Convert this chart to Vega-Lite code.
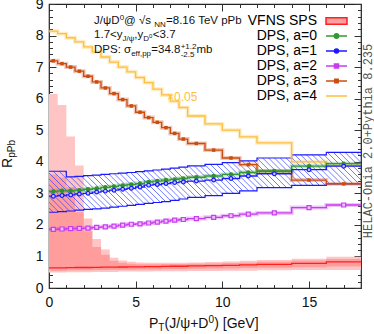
{
"$schema": "https://vega.github.io/schema/vega-lite/v6.json",
"width": 312, "height": 284, "autosize": "none",
"padding": {"left": 49, "top": 4, "right": 13, "bottom": 46},
"background": "white",
"config": {
 "view": {"stroke": "#222", "strokeWidth": 1.2},
 "axis": {"labelFont": "Liberation Sans", "labelFontSize": 14, "labelColor": "#111", "tickColor": "#333", "tickWidth": 1, "domain": false, "grid": false, "labelOverlap": false, "labelFlush": false},
 "legend": {"symbolSize": 196, "labelFontSize": 14, "labelFont": "Liberation Sans", "labelColor": "#000", "labelAlign": "right", "labelBaseline": "middle", "labelOffset": -27.5, "labelLimit": 0, "rowPadding": 0, "symbolOpacity": 1, "symbolStrokeWidth": 1.5, "padding": 0},
 "text": {"font": "Liberation Sans"}
},
"data": {"values": [
{"pt":0.25,"lo":0,"hi":0.5,"a0":3.06,"a1":2.91,"a1lo":2.40,"a1hi":3.70,"a2":1.86,"a3":7.20,"a4":8.14,"s":0.64,"s1lo":0.55,"s1hi":3.6,"s2lo":0.49,"s2hi":6.15},
{"pt":0.75,"lo":0.5,"hi":1,"a0":3.08,"a1":2.93,"a1lo":2.42,"a1hi":3.70,"a2":1.87,"a3":7.11,"a4":8.06,"s":0.64,"s1lo":0.55,"s1hi":3.5,"s2lo":0.49,"s2hi":5.80},
{"pt":1.25,"lo":1,"hi":1.5,"a0":3.08,"a1":2.95,"a1lo":2.44,"a1hi":3.52,"a2":1.88,"a3":7.00,"a4":7.93,"s":0.645,"s1lo":0.56,"s1hi":3.2,"s2lo":0.50,"s2hi":4.80},
{"pt":1.75,"lo":1.5,"hi":2,"a0":3.10,"a1":2.98,"a1lo":2.47,"a1hi":3.54,"a2":1.89,"a3":6.87,"a4":7.80,"s":0.65,"s1lo":0.56,"s1hi":2.4,"s2lo":0.50,"s2hi":3.88},
{"pt":2.25,"lo":2,"hi":2.5,"a0":3.13,"a1":3.00,"a1lo":2.49,"a1hi":3.56,"a2":1.90,"a3":6.71,"a4":7.64,"s":0.65,"s1lo":0.56,"s1hi":1.8,"s2lo":0.50,"s2hi":2.20},
{"pt":2.75,"lo":2.5,"hi":3,"a0":3.15,"a1":3.04,"a1lo":2.51,"a1hi":3.58,"a2":1.92,"a3":6.53,"a4":7.48,"s":0.655,"s1lo":0.57,"s1hi":1.3,"s2lo":0.51,"s2hi":1.55},
{"pt":3.25,"lo":3,"hi":3.5,"a0":3.19,"a1":3.07,"a1lo":2.53,"a1hi":3.60,"a2":1.94,"a3":6.34,"a4":7.32,"s":0.66,"s1lo":0.57,"s1hi":1.05,"s2lo":0.51,"s2hi":1.22},
{"pt":3.75,"lo":3.5,"hi":4,"a0":3.22,"a1":3.10,"a1lo":2.56,"a1hi":3.62,"a2":1.96,"a3":6.16,"a4":7.16,"s":0.66,"s1lo":0.58,"s1hi":0.86,"s2lo":0.51,"s2hi":0.96},
{"pt":4.25,"lo":4,"hi":4.5,"a0":3.25,"a1":3.13,"a1lo":2.59,"a1hi":3.64,"a2":1.99,"a3":5.97,"a4":7.00,"s":0.665,"s1lo":0.58,"s1hi":0.80,"s2lo":0.52,"s2hi":0.87},
{"pt":4.75,"lo":4.5,"hi":5,"a0":3.28,"a1":3.16,"a1lo":2.62,"a1hi":3.66,"a2":2.02,"a3":5.77,"a4":6.85,"s":0.67,"s1lo":0.58,"s1hi":0.77,"s2lo":0.52,"s2hi":0.83},
{"pt":5.25,"lo":5,"hi":5.5,"a0":3.31,"a1":3.20,"a1lo":2.65,"a1hi":3.69,"a2":2.03,"a3":5.57,"a4":6.67,"s":0.67,"s1lo":0.59,"s1hi":0.75,"s2lo":0.52,"s2hi":0.81},
{"pt":5.75,"lo":5.5,"hi":6,"a0":3.36,"a1":3.26,"a1lo":2.68,"a1hi":3.71,"a2":2.06,"a3":5.40,"a4":6.51,"s":0.675,"s1lo":0.59,"s1hi":0.75,"s2lo":0.52,"s2hi":0.80},
{"pt":6.25,"lo":6,"hi":6.5,"a0":3.39,"a1":3.28,"a1lo":2.71,"a1hi":3.74,"a2":2.09,"a3":5.25,"a4":6.30,"s":0.68,"s1lo":0.59,"s1hi":0.75,"s2lo":0.53,"s2hi":0.80},
{"pt":6.75,"lo":6.5,"hi":7,"a0":3.42,"a1":3.31,"a1lo":2.74,"a1hi":3.77,"a2":2.12,"a3":5.08,"a4":6.12,"s":0.685,"s1lo":0.60,"s1hi":0.76,"s2lo":0.53,"s2hi":0.80},
{"pt":7.25,"lo":7,"hi":7.5,"a0":3.44,"a1":3.34,"a1lo":2.78,"a1hi":3.80,"a2":2.15,"a3":4.90,"a4":5.92,"s":0.69,"s1lo":0.60,"s1hi":0.76,"s2lo":0.53,"s2hi":0.80},
{"pt":7.75,"lo":7.5,"hi":8,"a0":3.47,"a1":3.36,"a1lo":2.82,"a1hi":3.83,"a2":2.17,"a3":4.72,"a4":5.72,"s":0.69,"s1lo":0.60,"s1hi":0.76,"s2lo":0.53,"s2hi":0.80},
{"pt":8.5,"lo":8,"hi":9,"a0":3.51,"a1":3.39,"a1lo":2.87,"a1hi":3.87,"a2":2.20,"a3":4.58,"a4":5.45,"s":0.70,"s1lo":0.61,"s1hi":0.77,"s2lo":0.54,"s2hi":0.81},
{"pt":9.5,"lo":9,"hi":10,"a0":3.55,"a1":3.42,"a1lo":2.93,"a1hi":3.92,"a2":2.24,"a3":4.37,"a4":5.20,"s":0.71,"s1lo":0.62,"s1hi":0.78,"s2lo":0.54,"s2hi":0.82},
{"pt":10.5,"lo":10,"hi":11,"a0":3.60,"a1":3.47,"a1lo":3.00,"a1hi":3.97,"a2":2.29,"a3":4.12,"a4":5.00,"s":0.72,"s1lo":0.62,"s1hi":0.79,"s2lo":0.55,"s2hi":0.84},
{"pt":11.5,"lo":11,"hi":12,"a0":3.66,"a1":3.55,"a1lo":3.08,"a1hi":4.03,"a2":2.34,"a3":3.91,"a4":4.79,"s":0.73,"s1lo":0.63,"s1hi":0.80,"s2lo":0.55,"s2hi":0.86},
{"pt":13,"lo":12,"hi":14,"a0":3.71,"a1":3.62,"a1lo":3.18,"a1hi":4.12,"a2":2.38,"a3":3.70,"a4":4.60,"s":0.75,"s1lo":0.64,"s1hi":0.83,"s2lo":0.56,"s2hi":0.89},
{"pt":15,"lo":14,"hi":16,"a0":3.86,"a1":3.75,"a1lo":3.25,"a1hi":4.22,"a2":2.55,"a3":3.42,"a4":4.00,"s":0.78,"s1lo":0.66,"s1hi":0.87,"s2lo":0.57,"s2hi":0.93},
{"pt":17,"lo":16,"hi":18,"a0":3.94,"a1":3.86,"a1lo":3.30,"a1hi":4.30,"a2":2.63,"a3":3.30,"a4":3.88,"s":0.83,"s1lo":0.68,"s1hi":0.92,"s2lo":0.57,"s2hi":0.99}
]},
"transform": [{"fold": ["lo", "hi"], "as": ["edge", "x"]}],
"resolve": {"axis": {"x": "independent", "y": "independent"}},
"layer": [
{"mark": {"type": "area", "color": "#ffc4c4", "interpolate": "linear"},
 "encoding": {
  "x": {"field": "x", "type": "quantitative", "scale": {"domain": [0, 18], "nice": false, "zero": false},
   "axis": {"orient": "bottom", "title": null, "values": [0,1,2,3,4,5,6,7,8,9,10,11,12,13,14,15,16,17,18],
    "tickSize": {"condition": {"test": "datum.value % 5 === 0", "value": -7}, "value": -3.5},
    "labelExpr": "datum.value % 5 === 0 ? datum.label : ''", "labelPadding": 14}},
  "y": {"field": "s2lo", "type": "quantitative", "scale": {"domain": [0, 9], "nice": false, "zero": false},
   "axis": {"orient": "left", "title": null, "labelOverlap": false, "values": [0,0.2,0.4,0.6,0.8,1,1.2,1.4,1.6,1.8,2,2.2,2.4,2.6,2.8,3,3.2,3.4,3.6,3.8,4,4.2,4.4,4.6,4.8,5,5.2,5.4,5.6,5.8,6,6.2,6.4,6.6,6.8,7,7.2,7.4,7.6,7.8,8,8.2,8.4,8.6,8.8,9],
    "tickSize": {"condition": {"test": "abs(datum.value - round(datum.value)) < 0.001", "value": -7}, "value": -3.5},
    "labelExpr": "abs(datum.value - round(datum.value)) < 0.001 ? format(datum.value, 'd') : ''", "labelPadding": 13}},
  "y2": {"field": "s2hi"}}},
{"mark": {"type": "area", "color": "#ff9d9d", "interpolate": "linear"},
 "encoding": {
  "x": {"field": "x", "type": "quantitative", "scale": {"domain": [0, 18], "nice": false, "zero": false},
   "axis": {"orient": "top", "title": null, "labels": false, "values": [0,1,2,3,4,5,6,7,8,9,10,11,12,13,14,15,16,17,18],
    "tickSize": {"condition": {"test": "datum.value % 5 === 0", "value": -7}, "value": -3.5}}},
  "y": {"field": "s1lo", "type": "quantitative", "scale": {"domain": [0, 9], "nice": false, "zero": false},
   "axis": {"orient": "right", "title": null, "labels": false, "values": [0,0.2,0.4,0.6,0.8,1,1.2,1.4,1.6,1.8,2,2.2,2.4,2.6,2.8,3,3.2,3.4,3.6,3.8,4,4.2,4.4,4.6,4.8,5,5.2,5.4,5.6,5.8,6,6.2,6.4,6.6,6.8,7,7.2,7.4,7.6,7.8,8,8.2,8.4,8.6,8.8,9],
    "tickSize": {"condition": {"test": "abs(datum.value - round(datum.value)) < 0.001", "value": -7}, "value": -3.5}}},
  "y2": {"field": "s1hi"}}},
{"mark": {"type": "line", "color": "#ff2020", "strokeWidth": 1.3},
 "encoding": {"x": {"field": "x", "type": "quantitative", "axis": null}, "y": {"field": "s", "type": "quantitative", "axis": null}}},
{"mark": {"type": "area", "opacity": 1, "fill": {"gradient": "linear", "x1": -0.2, "y1": 0.2, "x2": 1.25, "y2": -0.0788, "stops": [
{"offset":0.025,"color":"#2a3cff00"},{"offset":0.027,"color":"#2a3cffb4"},{"offset":0.029,"color":"#2a3cff00"},
{"offset":0.0375,"color":"#2a3cff00"},{"offset":0.0395,"color":"#2a3cffb4"},{"offset":0.0415,"color":"#2a3cff00"},
{"offset":0.05,"color":"#2a3cff00"},{"offset":0.052,"color":"#2a3cffb4"},{"offset":0.054,"color":"#2a3cff00"},
{"offset":0.0625,"color":"#2a3cff00"},{"offset":0.0645,"color":"#2a3cffb4"},{"offset":0.0665,"color":"#2a3cff00"},
{"offset":0.075,"color":"#2a3cff00"},{"offset":0.077,"color":"#2a3cffb4"},{"offset":0.079,"color":"#2a3cff00"},
{"offset":0.0875,"color":"#2a3cff00"},{"offset":0.0895,"color":"#2a3cffb4"},{"offset":0.0915,"color":"#2a3cff00"},
{"offset":0.1,"color":"#2a3cff00"},{"offset":0.102,"color":"#2a3cffb4"},{"offset":0.104,"color":"#2a3cff00"},
{"offset":0.1125,"color":"#2a3cff00"},{"offset":0.1145,"color":"#2a3cffb4"},{"offset":0.1165,"color":"#2a3cff00"},
{"offset":0.125,"color":"#2a3cff00"},{"offset":0.127,"color":"#2a3cffb4"},{"offset":0.129,"color":"#2a3cff00"},
{"offset":0.1375,"color":"#2a3cff00"},{"offset":0.1395,"color":"#2a3cffb4"},{"offset":0.1415,"color":"#2a3cff00"},
{"offset":0.15,"color":"#2a3cff00"},{"offset":0.152,"color":"#2a3cffb4"},{"offset":0.154,"color":"#2a3cff00"},
{"offset":0.1625,"color":"#2a3cff00"},{"offset":0.1645,"color":"#2a3cffb4"},{"offset":0.1665,"color":"#2a3cff00"},
{"offset":0.175,"color":"#2a3cff00"},{"offset":0.177,"color":"#2a3cffb4"},{"offset":0.179,"color":"#2a3cff00"},
{"offset":0.1875,"color":"#2a3cff00"},{"offset":0.1895,"color":"#2a3cffb4"},{"offset":0.1915,"color":"#2a3cff00"},
{"offset":0.2,"color":"#2a3cff00"},{"offset":0.202,"color":"#2a3cffb4"},{"offset":0.204,"color":"#2a3cff00"},
{"offset":0.2125,"color":"#2a3cff00"},{"offset":0.2145,"color":"#2a3cffb4"},{"offset":0.2165,"color":"#2a3cff00"},
{"offset":0.225,"color":"#2a3cff00"},{"offset":0.227,"color":"#2a3cffb4"},{"offset":0.229,"color":"#2a3cff00"},
{"offset":0.2375,"color":"#2a3cff00"},{"offset":0.2395,"color":"#2a3cffb4"},{"offset":0.2415,"color":"#2a3cff00"},
{"offset":0.25,"color":"#2a3cff00"},{"offset":0.252,"color":"#2a3cffb4"},{"offset":0.254,"color":"#2a3cff00"},
{"offset":0.2625,"color":"#2a3cff00"},{"offset":0.2645,"color":"#2a3cffb4"},{"offset":0.2665,"color":"#2a3cff00"},
{"offset":0.275,"color":"#2a3cff00"},{"offset":0.277,"color":"#2a3cffb4"},{"offset":0.279,"color":"#2a3cff00"},
{"offset":0.2875,"color":"#2a3cff00"},{"offset":0.2895,"color":"#2a3cffb4"},{"offset":0.2915,"color":"#2a3cff00"},
{"offset":0.3,"color":"#2a3cff00"},{"offset":0.302,"color":"#2a3cffb4"},{"offset":0.304,"color":"#2a3cff00"},
{"offset":0.3125,"color":"#2a3cff00"},{"offset":0.3145,"color":"#2a3cffb4"},{"offset":0.3165,"color":"#2a3cff00"},
{"offset":0.325,"color":"#2a3cff00"},{"offset":0.327,"color":"#2a3cffb4"},{"offset":0.329,"color":"#2a3cff00"},
{"offset":0.3375,"color":"#2a3cff00"},{"offset":0.3395,"color":"#2a3cffb4"},{"offset":0.3415,"color":"#2a3cff00"},
{"offset":0.35,"color":"#2a3cff00"},{"offset":0.352,"color":"#2a3cffb4"},{"offset":0.354,"color":"#2a3cff00"},
{"offset":0.3625,"color":"#2a3cff00"},{"offset":0.3645,"color":"#2a3cffb4"},{"offset":0.3665,"color":"#2a3cff00"},
{"offset":0.375,"color":"#2a3cff00"},{"offset":0.377,"color":"#2a3cffb4"},{"offset":0.379,"color":"#2a3cff00"},
{"offset":0.3875,"color":"#2a3cff00"},{"offset":0.3895,"color":"#2a3cffb4"},{"offset":0.3915,"color":"#2a3cff00"},
{"offset":0.4,"color":"#2a3cff00"},{"offset":0.402,"color":"#2a3cffb4"},{"offset":0.404,"color":"#2a3cff00"},
{"offset":0.4125,"color":"#2a3cff00"},{"offset":0.4145,"color":"#2a3cffb4"},{"offset":0.4165,"color":"#2a3cff00"},
{"offset":0.425,"color":"#2a3cff00"},{"offset":0.427,"color":"#2a3cffb4"},{"offset":0.429,"color":"#2a3cff00"},
{"offset":0.4375,"color":"#2a3cff00"},{"offset":0.4395,"color":"#2a3cffb4"},{"offset":0.4415,"color":"#2a3cff00"},
{"offset":0.45,"color":"#2a3cff00"},{"offset":0.452,"color":"#2a3cffb4"},{"offset":0.454,"color":"#2a3cff00"},
{"offset":0.4625,"color":"#2a3cff00"},{"offset":0.4645,"color":"#2a3cffb4"},{"offset":0.4665,"color":"#2a3cff00"},
{"offset":0.475,"color":"#2a3cff00"},{"offset":0.477,"color":"#2a3cffb4"},{"offset":0.479,"color":"#2a3cff00"},
{"offset":0.4875,"color":"#2a3cff00"},{"offset":0.4895,"color":"#2a3cffb4"},{"offset":0.4915,"color":"#2a3cff00"},
{"offset":0.5,"color":"#2a3cff00"},{"offset":0.502,"color":"#2a3cffb4"},{"offset":0.504,"color":"#2a3cff00"},
{"offset":0.5125,"color":"#2a3cff00"},{"offset":0.5145,"color":"#2a3cffb4"},{"offset":0.5165,"color":"#2a3cff00"},
{"offset":0.525,"color":"#2a3cff00"},{"offset":0.527,"color":"#2a3cffb4"},{"offset":0.529,"color":"#2a3cff00"},
{"offset":0.5375,"color":"#2a3cff00"},{"offset":0.5395,"color":"#2a3cffb4"},{"offset":0.5415,"color":"#2a3cff00"},
{"offset":0.55,"color":"#2a3cff00"},{"offset":0.552,"color":"#2a3cffb4"},{"offset":0.554,"color":"#2a3cff00"},
{"offset":0.5625,"color":"#2a3cff00"},{"offset":0.5645,"color":"#2a3cffb4"},{"offset":0.5665,"color":"#2a3cff00"},
{"offset":0.575,"color":"#2a3cff00"},{"offset":0.577,"color":"#2a3cffb4"},{"offset":0.579,"color":"#2a3cff00"},
{"offset":0.5875,"color":"#2a3cff00"},{"offset":0.5895,"color":"#2a3cffb4"},{"offset":0.5915,"color":"#2a3cff00"},
{"offset":0.6,"color":"#2a3cff00"},{"offset":0.602,"color":"#2a3cffb4"},{"offset":0.604,"color":"#2a3cff00"},
{"offset":0.6125,"color":"#2a3cff00"},{"offset":0.6145,"color":"#2a3cffb4"},{"offset":0.6165,"color":"#2a3cff00"},
{"offset":0.625,"color":"#2a3cff00"},{"offset":0.627,"color":"#2a3cffb4"},{"offset":0.629,"color":"#2a3cff00"},
{"offset":0.6375,"color":"#2a3cff00"},{"offset":0.6395,"color":"#2a3cffb4"},{"offset":0.6415,"color":"#2a3cff00"},
{"offset":0.65,"color":"#2a3cff00"},{"offset":0.652,"color":"#2a3cffb4"},{"offset":0.654,"color":"#2a3cff00"},
{"offset":0.6625,"color":"#2a3cff00"},{"offset":0.6645,"color":"#2a3cffb4"},{"offset":0.6665,"color":"#2a3cff00"},
{"offset":0.675,"color":"#2a3cff00"},{"offset":0.677,"color":"#2a3cffb4"},{"offset":0.679,"color":"#2a3cff00"},
{"offset":0.6875,"color":"#2a3cff00"},{"offset":0.6895,"color":"#2a3cffb4"},{"offset":0.6915,"color":"#2a3cff00"},
{"offset":0.7,"color":"#2a3cff00"},{"offset":0.702,"color":"#2a3cffb4"},{"offset":0.704,"color":"#2a3cff00"},
{"offset":0.7125,"color":"#2a3cff00"},{"offset":0.7145,"color":"#2a3cffb4"},{"offset":0.7165,"color":"#2a3cff00"},
{"offset":0.725,"color":"#2a3cff00"},{"offset":0.727,"color":"#2a3cffb4"},{"offset":0.729,"color":"#2a3cff00"},
{"offset":0.7375,"color":"#2a3cff00"},{"offset":0.7395,"color":"#2a3cffb4"},{"offset":0.7415,"color":"#2a3cff00"},
{"offset":0.75,"color":"#2a3cff00"},{"offset":0.752,"color":"#2a3cffb4"},{"offset":0.754,"color":"#2a3cff00"},
{"offset":0.7625,"color":"#2a3cff00"},{"offset":0.7645,"color":"#2a3cffb4"},{"offset":0.7665,"color":"#2a3cff00"},
{"offset":0.775,"color":"#2a3cff00"},{"offset":0.777,"color":"#2a3cffb4"},{"offset":0.779,"color":"#2a3cff00"},
{"offset":0.7875,"color":"#2a3cff00"},{"offset":0.7895,"color":"#2a3cffb4"},{"offset":0.7915,"color":"#2a3cff00"},
{"offset":0.8,"color":"#2a3cff00"},{"offset":0.802,"color":"#2a3cffb4"},{"offset":0.804,"color":"#2a3cff00"},
{"offset":0.8125,"color":"#2a3cff00"},{"offset":0.8145,"color":"#2a3cffb4"},{"offset":0.8165,"color":"#2a3cff00"},
{"offset":0.825,"color":"#2a3cff00"},{"offset":0.827,"color":"#2a3cffb4"},{"offset":0.829,"color":"#2a3cff00"}
]}},
 "encoding": {"x": {"field": "x", "type": "quantitative", "axis": null}, "y": {"field": "a1lo", "type": "quantitative", "axis": null}, "y2": {"field": "a1hi"}}},
{"mark": {"type": "line", "color": "#1a1aff", "strokeWidth": 1.2},
 "encoding": {"x": {"field": "x", "type": "quantitative", "axis": null}, "y": {"field": "a1lo", "type": "quantitative", "axis": null}}},
{"mark": {"type": "line", "color": "#1a1aff", "strokeWidth": 1.2},
 "encoding": {"x": {"field": "x", "type": "quantitative", "axis": null}, "y": {"field": "a1hi", "type": "quantitative", "axis": null}}},
{"mark": {"type": "line", "color": "#fdbf40", "strokeWidth": 4, "opacity": 0.3},
 "encoding": {"x": {"field": "x", "type": "quantitative", "axis": null}, "y": {"field": "a4", "type": "quantitative", "axis": null}}},
{"mark": {"type": "line", "color": "#fdbf40", "strokeWidth": 1.3},
 "encoding": {"x": {"field": "x", "type": "quantitative", "axis": null}, "y": {"field": "a4", "type": "quantitative", "axis": null}}},
{"mark": {"type": "line", "color": "#cc4c10", "strokeWidth": 4, "opacity": 0.3},
 "encoding": {"x": {"field": "x", "type": "quantitative", "axis": null}, "y": {"field": "a3", "type": "quantitative", "axis": null}}},
{"mark": {"type": "line", "color": "#cc4c10", "strokeWidth": 1.3},
 "encoding": {"x": {"field": "x", "type": "quantitative", "axis": null}, "y": {"field": "a3", "type": "quantitative", "axis": null}}},
{"mark": {"type": "line", "color": "#c83cf0", "strokeWidth": 4, "opacity": 0.3},
 "encoding": {"x": {"field": "x", "type": "quantitative", "axis": null}, "y": {"field": "a2", "type": "quantitative", "axis": null}}},
{"mark": {"type": "line", "color": "#c83cf0", "strokeWidth": 1.3},
 "encoding": {"x": {"field": "x", "type": "quantitative", "axis": null}, "y": {"field": "a2", "type": "quantitative", "axis": null}}},
{"mark": {"type": "line", "color": "#339933", "strokeWidth": 4, "opacity": 0.3},
 "encoding": {"x": {"field": "x", "type": "quantitative", "axis": null}, "y": {"field": "a0", "type": "quantitative", "axis": null}}},
{"mark": {"type": "line", "color": "#339933", "strokeWidth": 1.3},
 "encoding": {"x": {"field": "x", "type": "quantitative", "axis": null}, "y": {"field": "a0", "type": "quantitative", "axis": null}}},
{"mark": {"type": "line", "color": "#1a1aff", "strokeWidth": 1.3},
 "encoding": {"x": {"field": "x", "type": "quantitative", "axis": null}, "y": {"field": "a1", "type": "quantitative", "axis": null}}},
{"transform": [{"filter": {"field": "edge", "equal": "lo"}}],
 "mark": {"type": "square", "fill": "#f0c0ff", "stroke": "#c83cf0", "strokeWidth": 1.2, "size": 16, "opacity": 1},
 "encoding": {"x": {"field": "pt", "type": "quantitative", "axis": null}, "y": {"field": "a2", "type": "quantitative", "axis": null}}},
{"transform": [{"filter": {"field": "edge", "equal": "lo"}}],
 "mark": {"type": "square", "color": "#cc4c10", "filled": true, "size": 12, "opacity": 1},
 "encoding": {"x": {"field": "pt", "type": "quantitative", "axis": null}, "y": {"field": "a3", "type": "quantitative", "axis": null}}},
{"transform": [{"filter": {"field": "edge", "equal": "lo"}}],
 "mark": {"type": "circle", "color": "#2e912e", "size": 20, "opacity": 1},
 "encoding": {"x": {"field": "pt", "type": "quantitative", "axis": null}, "y": {"field": "a0", "type": "quantitative", "axis": null}}},
{"transform": [{"filter": {"field": "edge", "equal": "lo"}}],
 "mark": {"type": "point", "shape": "circle", "fill": "#c8c8ff", "stroke": "#1a1aff", "strokeWidth": 1.2, "size": 14, "opacity": 1},
 "encoding": {"x": {"field": "pt", "type": "quantitative", "axis": null}, "y": {"field": "a1", "type": "quantitative", "axis": null}}},
{"data": {"values": [{"series": "VFNS SPS"}, {"series": "DPS, a=0"}, {"series": "DPS, a=1"}, {"series": "DPS, a=2"}, {"series": "DPS, a=3"}, {"series": "DPS, a=4"}]},
 "mark": {"type": "point", "opacity": 0, "filled": true},
 "encoding": {
  "color": {"field": "series", "type": "nominal",
   "scale": {"domain": ["VFNS SPS", "DPS, a=0", "DPS, a=1", "DPS, a=2", "DPS, a=3", "DPS, a=4"], "range": ["#ff9f9f", "#339933", "#1a1aff", "#c83cf0", "#cc4c10", "#fdbf40"]},
   "legend": {"orient": "none", "legendX": 279.5, "legendY": 9, "title": null,
    "encode": {"symbols": {"update": {"fill": {"signal": "datum.value === 'DPS, a=1' ? '#c8c8ff' : datum.value === 'DPS, a=2' ? '#f0c0ff' : scale('color', datum.value)"}, "stroke": {"signal": "datum.value === 'VFNS SPS' ? '#ff2020' : scale('color', datum.value)"}, "opacity": {"value": 1}, "strokeWidth": {"value": 1.5}}}}}},
  "shape": {"field": "series", "type": "nominal",
   "scale": {"domain": ["VFNS SPS", "DPS, a=0", "DPS, a=1", "DPS, a=2", "DPS, a=3", "DPS, a=4"], "range": ["M-1.5,-0.45H1.5V0.45H-1.5Z", "M-1.5,0H1.5M-0.31,0A0.31,0.31,0,1,0,0.31,0A0.31,0.31,0,1,0,-0.31,0Z", "M-1.5,0H1.5M-0.29,0A0.29,0.29,0,1,0,0.29,0A0.29,0.29,0,1,0,-0.29,0Z", "M-1.5,0H1.5M-0.29,-0.29H0.29V0.29H-0.29Z", "M-1.5,0H1.5M-0.24,-0.24H0.24V0.24H-0.24Z", "M-1.5,0H1.5"]},
   "legend": {"orient": "none", "legendX": 279.5, "legendY": 9, "title": null}}}},
{"data": {"values": [{}]}, "mark": {"type": "text", "text": "J/ψD", "align": "left", "baseline": "alphabetic", "fontSize": 11.5, "color": "#111"},
 "encoding": {"x": {"datum": 2.6, "type": "quantitative", "axis": null}, "y": {"datum": 8.36, "type": "quantitative", "axis": null}}},
{"data": {"values": [{}]}, "mark": {"type": "text", "text": "0", "align": "left", "baseline": "alphabetic", "fontSize": 8, "dx": 25.6, "dy": -4.5, "color": "#111"},
 "encoding": {"x": {"datum": 2.6, "type": "quantitative", "axis": null}, "y": {"datum": 8.36, "type": "quantitative", "axis": null}}},
{"data": {"values": [{}]}, "mark": {"type": "text", "text": " @ √s", "align": "left", "baseline": "alphabetic", "fontSize": 11.5, "dx": 30, "color": "#111"},
 "encoding": {"x": {"datum": 2.6, "type": "quantitative", "axis": null}, "y": {"datum": 8.36, "type": "quantitative", "axis": null}}},
{"data": {"values": [{}]}, "mark": {"type": "text", "text": "NN", "align": "left", "baseline": "alphabetic", "fontSize": 8, "dx": 60.1, "dy": 2.5, "color": "#111"},
 "encoding": {"x": {"datum": 2.6, "type": "quantitative", "axis": null}, "y": {"datum": 8.36, "type": "quantitative", "axis": null}}},
{"data": {"values": [{}]}, "mark": {"type": "text", "text": "=8.16 TeV pPb", "align": "left", "baseline": "alphabetic", "fontSize": 11.5, "dx": 72, "color": "#111"},
 "encoding": {"x": {"datum": 2.6, "type": "quantitative", "axis": null}, "y": {"datum": 8.36, "type": "quantitative", "axis": null}}},
{"data": {"values": [{}]}, "mark": {"type": "text", "text": "1.7<y", "align": "left", "baseline": "alphabetic", "fontSize": 11.5, "color": "#111"},
 "encoding": {"x": {"datum": 2.6, "type": "quantitative", "axis": null}, "y": {"datum": 7.91, "type": "quantitative", "axis": null}}},
{"data": {"values": [{}]}, "mark": {"type": "text", "text": "J/ψ", "align": "left", "baseline": "alphabetic", "fontSize": 8, "dx": 28.5, "dy": 3, "color": "#111"},
 "encoding": {"x": {"datum": 2.6, "type": "quantitative", "axis": null}, "y": {"datum": 7.91, "type": "quantitative", "axis": null}}},
{"data": {"values": [{}]}, "mark": {"type": "text", "text": ",y", "align": "left", "baseline": "alphabetic", "fontSize": 11.5, "dx": 40.3, "color": "#111"},
 "encoding": {"x": {"datum": 2.6, "type": "quantitative", "axis": null}, "y": {"datum": 7.91, "type": "quantitative", "axis": null}}},
{"data": {"values": [{}]}, "mark": {"type": "text", "text": "D", "align": "left", "baseline": "alphabetic", "fontSize": 8, "dx": 49.2, "dy": 3, "color": "#111"},
 "encoding": {"x": {"datum": 2.6, "type": "quantitative", "axis": null}, "y": {"datum": 7.91, "type": "quantitative", "axis": null}}},
{"data": {"values": [{}]}, "mark": {"type": "text", "text": "0", "align": "left", "baseline": "alphabetic", "fontSize": 6, "dx": 55, "dy": -0.5, "color": "#111"},
 "encoding": {"x": {"datum": 2.6, "type": "quantitative", "axis": null}, "y": {"datum": 7.91, "type": "quantitative", "axis": null}}},
{"data": {"values": [{}]}, "mark": {"type": "text", "text": "<3.7", "align": "left", "baseline": "alphabetic", "fontSize": 11.5, "dx": 58.8, "color": "#111"},
 "encoding": {"x": {"datum": 2.6, "type": "quantitative", "axis": null}, "y": {"datum": 7.91, "type": "quantitative", "axis": null}}},
{"data": {"values": [{}]}, "mark": {"type": "text", "text": "DPS: σ", "align": "left", "baseline": "alphabetic", "fontSize": 11.5, "color": "#111"},
 "encoding": {"x": {"datum": 2.6, "type": "quantitative", "axis": null}, "y": {"datum": 7.44, "type": "quantitative", "axis": null}}},
{"data": {"values": [{}]}, "mark": {"type": "text", "text": "eff,pp", "align": "left", "baseline": "alphabetic", "fontSize": 8, "dx": 37.1, "dy": 3, "color": "#111"},
 "encoding": {"x": {"datum": 2.6, "type": "quantitative", "axis": null}, "y": {"datum": 7.44, "type": "quantitative", "axis": null}}},
{"data": {"values": [{}]}, "mark": {"type": "text", "text": "=34.8", "align": "left", "baseline": "alphabetic", "fontSize": 11.5, "dx": 57.3, "color": "#111"},
 "encoding": {"x": {"datum": 2.6, "type": "quantitative", "axis": null}, "y": {"datum": 7.44, "type": "quantitative", "axis": null}}},
{"data": {"values": [{}]}, "mark": {"type": "text", "text": "+1.2", "align": "left", "baseline": "alphabetic", "fontSize": 8, "dx": 86.6, "dy": -4.5, "color": "#111"},
 "encoding": {"x": {"datum": 2.6, "type": "quantitative", "axis": null}, "y": {"datum": 7.44, "type": "quantitative", "axis": null}}},
{"data": {"values": [{}]}, "mark": {"type": "text", "text": "-2.5", "align": "left", "baseline": "alphabetic", "fontSize": 8, "dx": 86.6, "dy": 3.5, "color": "#111"},
 "encoding": {"x": {"datum": 2.6, "type": "quantitative", "axis": null}, "y": {"datum": 7.44, "type": "quantitative", "axis": null}}},
{"data": {"values": [{}]}, "mark": {"type": "text", "text": " mb", "align": "left", "baseline": "alphabetic", "fontSize": 11.5, "dx": 102.4, "color": "#111"},
 "encoding": {"x": {"datum": 2.6, "type": "quantitative", "axis": null}, "y": {"datum": 7.44, "type": "quantitative", "axis": null}}},
{"data": {"values": [{}]}, "mark": {"type": "text", "text": "×0.05", "align": "left", "baseline": "middle", "fontSize": 12, "color": "#fdbf40"},
 "encoding": {"x": {"datum": 6.81, "type": "quantitative", "axis": null}, "y": {"datum": 6.05, "type": "quantitative", "axis": null}}},
{"data": {"values": [{}]}, "mark": {"type": "text", "text": "HELAC-Onia 2.0+Pythia 8.235", "align": "center", "baseline": "middle", "angle": 270, "font": "Liberation Mono", "fontSize": 12, "dy": 6.5, "color": "#555"},
 "encoding": {"x": {"datum": 18, "type": "quantitative", "axis": null}, "y": {"datum": 4.66, "type": "quantitative", "axis": null}}},
{"data": {"values": [{}]}, "mark": {"type": "text", "text": "R", "align": "left", "baseline": "alphabetic", "angle": 270, "fontSize": 14, "dy": -37, "color": "#111"},
 "encoding": {"x": {"datum": 0, "type": "quantitative", "axis": null}, "y": {"datum": 3.8, "type": "quantitative", "axis": null}}},
{"data": {"values": [{}]}, "mark": {"type": "text", "text": "pPb", "align": "left", "baseline": "alphabetic", "angle": 270, "fontSize": 10, "dx": 10.3, "dy": -34.5, "color": "#111"},
 "encoding": {"x": {"datum": 0, "type": "quantitative", "axis": null}, "y": {"datum": 3.8, "type": "quantitative", "axis": null}}},
{"data": {"values": [{}]}, "mark": {"type": "text", "text": "P", "align": "left", "baseline": "alphabetic", "fontSize": 14, "dy": 40, "color": "#111"},
 "encoding": {"x": {"datum": 5.77, "type": "quantitative", "axis": null}, "y": {"datum": 0, "type": "quantitative", "axis": null}}},
{"data": {"values": [{}]}, "mark": {"type": "text", "text": "T", "align": "left", "baseline": "alphabetic", "fontSize": 10, "dx": 9.3, "dy": 43, "color": "#111"},
 "encoding": {"x": {"datum": 5.77, "type": "quantitative", "axis": null}, "y": {"datum": 0, "type": "quantitative", "axis": null}}},
{"data": {"values": [{}]}, "mark": {"type": "text", "text": "(J/ψ+D", "align": "left", "baseline": "alphabetic", "fontSize": 14, "dx": 15.6, "dy": 40, "color": "#111"},
 "encoding": {"x": {"datum": 5.77, "type": "quantitative", "axis": null}, "y": {"datum": 0, "type": "quantitative", "axis": null}}},
{"data": {"values": [{}]}, "mark": {"type": "text", "text": "0", "align": "left", "baseline": "alphabetic", "fontSize": 10, "dx": 59.4, "dy": 35, "color": "#111"},
 "encoding": {"x": {"datum": 5.77, "type": "quantitative", "axis": null}, "y": {"datum": 0, "type": "quantitative", "axis": null}}},
{"data": {"values": [{}]}, "mark": {"type": "text", "text": ") [GeV]", "align": "left", "baseline": "alphabetic", "fontSize": 14, "dx": 65.2, "dy": 40, "color": "#111"},
 "encoding": {"x": {"datum": 5.77, "type": "quantitative", "axis": null}, "y": {"datum": 0, "type": "quantitative", "axis": null}}}
]
}
